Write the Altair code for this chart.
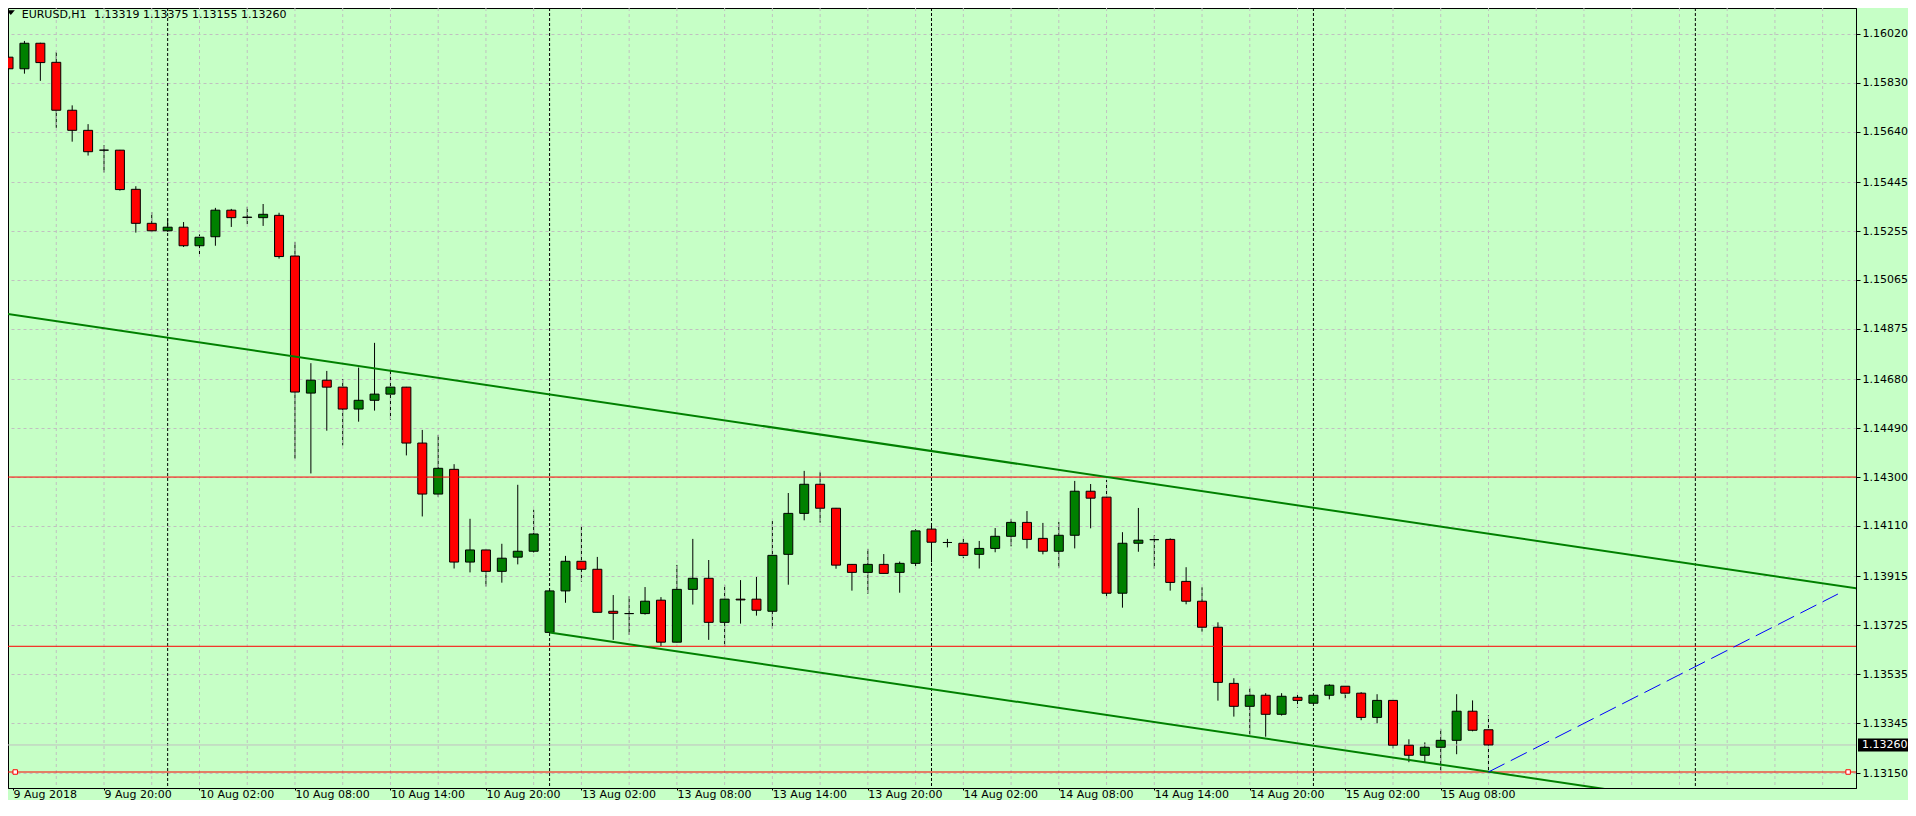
import altair as alt
import pandas as pd

# ---------------- data (EURUSD H1) ----------------
opens = [1.15930, 1.15885, 1.15984, 1.15910, 1.15724, 1.15646, 1.15569, 1.15569, 1.15417, 1.15285,
         1.15256, 1.15270, 1.15198, 1.15233, 1.15336, 1.15309, 1.15307, 1.15316, 1.15158, 1.14626,
         1.14676, 1.14649, 1.14564, 1.14598, 1.14622, 1.14649, 1.14432, 1.14234, 1.14330, 1.13970,
         1.14017, 1.13934, 1.13989, 1.14012, 1.13697, 1.13858, 1.13973, 1.13942, 1.13779, 1.13770,
         1.13770, 1.13822, 1.13659, 1.13864, 1.13907, 1.13736, 1.13826, 1.13826, 1.13779, 1.14000,
         1.14159, 1.14272, 1.14179, 1.13961, 1.13930, 1.13961, 1.13930, 1.13965, 1.14098, 1.14046,
         1.14043, 1.14000, 1.14023, 1.14070, 1.14124, 1.14062, 1.14012, 1.14074, 1.14245, 1.14222,
         1.13849, 1.14043, 1.14057, 1.14058, 1.13895, 1.13818, 1.13717, 1.13499, 1.13410, 1.13453,
         1.13379, 1.13445, 1.13422, 1.13453, 1.13488, 1.13461, 1.13367, 1.13433, 1.13259, 1.13220,
         1.13251, 1.13278, 1.13391, 1.13319]
highs = [1.15945, 1.15993, 1.15986, 1.15950, 1.15743, 1.15670, 1.15588, 1.15570, 1.15429, 1.15329,
         1.15305, 1.15290, 1.15242, 1.15345, 1.15341, 1.15349, 1.15360, 1.15326, 1.15213, 1.14742,
         1.14712, 1.14680, 1.14725, 1.14821, 1.14720, 1.14650, 1.14483, 1.14463, 1.14350, 1.14138,
         1.14018, 1.14041, 1.14270, 1.14173, 1.13860, 1.13994, 1.14110, 1.13990, 1.13842, 1.13838,
         1.13873, 1.13834, 1.13959, 1.14060, 1.13978, 1.13881, 1.13900, 1.13912, 1.14129, 1.14238,
         1.14324, 1.14320, 1.14180, 1.13962, 1.14021, 1.14001, 1.13972, 1.14098, 1.14118, 1.14060,
         1.14060, 1.14052, 1.14102, 1.14137, 1.14168, 1.14122, 1.14126, 1.14285, 1.14273, 1.14289,
         1.14086, 1.14180, 1.14074, 1.14062, 1.13950, 1.13872, 1.13736, 1.13519, 1.13480, 1.13461,
         1.13461, 1.13461, 1.13455, 1.13496, 1.13488, 1.13465, 1.13457, 1.13434, 1.13282, 1.13270,
         1.13321, 1.13457, 1.13433, 1.13375]
lows = [1.15871, 1.15866, 1.15838, 1.15656, 1.15602, 1.15548, 1.15482, 1.15412, 1.15249, 1.15252,
        1.15252, 1.15193, 1.15156, 1.15198, 1.15271, 1.15282, 1.15275, 1.15148, 1.14371, 1.14314,
        1.14480, 1.14423, 1.14515, 1.14558, 1.14523, 1.14384, 1.14147, 1.14222, 1.13945, 1.13930,
        1.13875, 1.13890, 1.13961, 1.14007, 1.13695, 1.13812, 1.13894, 1.13775, 1.13668, 1.13687,
        1.13766, 1.13644, 1.13658, 1.13805, 1.13668, 1.13644, 1.13731, 1.13762, 1.13711, 1.13882,
        1.14132, 1.14123, 1.13944, 1.13859, 1.13847, 1.13926, 1.13851, 1.13954, 1.13969, 1.14027,
        1.13985, 1.13945, 1.14008, 1.14031, 1.14023, 1.14000, 1.13948, 1.14023, 1.14101, 1.13832,
        1.13793, 1.14010, 1.13944, 1.13859, 1.13806, 1.13700, 1.13432, 1.13370, 1.13300, 1.13292,
        1.13374, 1.13405, 1.13420, 1.13437, 1.13441, 1.13356, 1.13344, 1.13247, 1.13193, 1.13193,
        1.13160, 1.13224, 1.13313, 1.13155]
closes = [1.15885, 1.15984, 1.15909, 1.15724, 1.15646, 1.15563, 1.15569, 1.15416, 1.15285, 1.15256,
          1.15270, 1.15198, 1.15231, 1.15336, 1.15307, 1.15308, 1.15320, 1.15156, 1.14630, 1.14676,
          1.14649, 1.14564, 1.14598, 1.14622, 1.14649, 1.14432, 1.14234, 1.14334, 1.13970, 1.14017,
          1.13934, 1.13985, 1.14012, 1.14079, 1.13858, 1.13973, 1.13942, 1.13775, 1.13771, 1.13770,
          1.13818, 1.13659, 1.13864, 1.13907, 1.13736, 1.13826, 1.13823, 1.13783, 1.13996, 1.14159,
          1.14272, 1.14179, 1.13958, 1.13930, 1.13961, 1.13926, 1.13965, 1.14091, 1.14047, 1.14046,
          1.13996, 1.14023, 1.14070, 1.14124, 1.14058, 1.14012, 1.14074, 1.14245, 1.14218, 1.13849,
          1.14043, 1.14055, 1.14057, 1.13891, 1.13818, 1.13717, 1.13503, 1.13410, 1.13453, 1.13379,
          1.13449, 1.13433, 1.13453, 1.13492, 1.13461, 1.13367, 1.13433, 1.13259, 1.13220, 1.13251,
          1.13278, 1.13391, 1.13317, 1.13260]

symbol_label = "EURUSD,H1"

x_tick_idx = [0, 6, 12, 18, 24, 30, 36, 42, 48, 54, 60, 66, 72, 78, 84, 90]
x_tick_labels = ["9 Aug 2018", "9 Aug 20:00", "10 Aug 02:00", "10 Aug 08:00", "10 Aug 14:00",
                 "10 Aug 20:00", "13 Aug 02:00", "13 Aug 08:00", "13 Aug 14:00", "13 Aug 20:00",
                 "14 Aug 02:00", "14 Aug 08:00", "14 Aug 14:00", "14 Aug 20:00", "15 Aug 02:00",
                 "15 Aug 08:00"]
y_tick_values = [1.16020, 1.15830, 1.15640, 1.15445, 1.15255, 1.15065, 1.14875, 1.14680,
                 1.14490, 1.14300, 1.14110, 1.13915, 1.13725, 1.13535, 1.13345, 1.13150]

day_separator_idx = [10, 34, 58, 82, 106]
grid_idx = list(range(3, 116, 3))

red_levels = [1.14300, 1.13643, 1.13155]
bid_price = closes[-1]

upper_trend_idx = [-1, 117]
upper_trend_price = [1.14942, 1.13860]
lower_trend_idx = [34, 117]
lower_trend_price = [1.13697, 1.12936]
blue_ray_idx = [93, 114.96]
blue_ray_price = [1.13155, 1.13846]
marker_idx = [0.42, 115.6]
marker_price = [1.13155, 1.13155]

# ---------------- styling ----------------
BG = "#C6FFC6"
GRID = "#C0C0C0"
FONT = "DejaVu Sans"
X_DOMAIN = [0.28125, 115.78125]
Y_DOMAIN = [1.130929, 1.161209]
PLOT_W, PLOT_H = 1848, 780

label_array = "[" + ",".join("'" + s + "'" for s in x_tick_labels) + "]"
x_axis_values = [max(v, X_DOMAIN[0]) for v in x_tick_idx]
X_AXIS = alt.Axis(values=x_axis_values, labelExpr=label_array + "[round(datum.value/6)]",
                  title=None, grid=False, tickSize=2, labelPadding=7, labelAlign="left",
                  labelBaseline="alphabetic", labelFont=FONT, labelFontSize=11,
                  labelColor="black", tickColor="black", domainColor="black",
                  labelFlush=False, labelOverlap=False)
Y_AXIS = alt.Axis(orient="right", values=y_tick_values, format=".5f", title=None, grid=True,
                  gridDash=[3, 3], gridColor=GRID, tickSize=4, labelPadding=2,
                  labelAlign="left", labelBaseline="middle", labelFont=FONT, labelFontSize=11,
                  labelColor="black", tickColor="black", domainColor="black",
                  labelFlush=False, labelOverlap=False)


def X(field):
    return alt.X(field, scale=alt.Scale(domain=X_DOMAIN, nice=False, zero=False), axis=X_AXIS)


def Y(field):
    return alt.Y(field, scale=alt.Scale(domain=Y_DOMAIN, nice=False, zero=False), axis=Y_AXIS)


n = len(opens)
candles = pd.DataFrame({"i": list(range(n)), "o": opens, "h": highs, "l": lows, "c": closes})
candles["top"] = candles[["o", "c"]].max(axis=1)
candles["bot"] = candles[["o", "c"]].min(axis=1)
candles["dir"] = ["up" if c > o else ("down" if c < o else "flat") for o, c in zip(opens, closes)]

wicks = alt.Chart(candles).mark_rule(color="black", strokeWidth=1, clip=True).encode(
    x=X("i:Q"), y=Y("l:Q"), y2="h:Q"
)

vgrid = alt.Chart(pd.DataFrame({"i": grid_idx})).mark_rule(
    color=GRID, strokeDash=[3, 3], strokeWidth=1, clip=True
).encode(x=X("i:Q"))

seps = alt.Chart(pd.DataFrame({"i": day_separator_idx})).mark_rule(
    color="black", strokeDash=[3, 2], strokeWidth=1, clip=True
).encode(x=X("i:Q"))

bidline = alt.Chart(pd.DataFrame({"p": [bid_price]})).mark_rule(
    color="#C0C0C0", strokeWidth=1
).encode(y=Y("p:Q"))

bodies = alt.Chart(candles).mark_bar(size=9, stroke="black", strokeWidth=1, clip=True).encode(
    x=X("i:Q"),
    y=Y("bot:Q"),
    y2="top:Q",
    fill=alt.Fill("dir:N", scale=alt.Scale(domain=["up", "down", "flat"],
                                           range=["#008000", "#FF0000", "#000000"]), legend=None),
)

redlines = alt.Chart(pd.DataFrame({"p": red_levels})).mark_rule(
    color="#FF0000", strokeWidth=1
).encode(y=Y("p:Q"))


def seg(idx, price, color, width, dash=None):
    kw = dict(color=color, strokeWidth=width, clip=True)
    if dash:
        kw["strokeDash"] = dash
    return alt.Chart(pd.DataFrame({"i": idx, "p": price})).mark_line(**kw).encode(
        x=X("i:Q"), y=Y("p:Q")
    )


upper = seg(upper_trend_idx, upper_trend_price, "#008000", 2)
lower = seg(lower_trend_idx, lower_trend_price, "#008000", 2)
blue = seg(blue_ray_idx, blue_ray_price, "#0000FF", 1, [18, 7])

markers = alt.Chart(pd.DataFrame({"i": marker_idx, "p": marker_price})).mark_point(
    shape="square", size=20, filled=True, fill="white", stroke="#FF0000", strokeWidth=1,
    opacity=1
).encode(x=X("i:Q"), y=Y("p:Q"))

one = pd.DataFrame({"k": [0]})
tri = alt.Chart(one).mark_point(
    shape="M-1,-0.6L1,-0.6L0,0.6Z", size=64, filled=True, color="black", opacity=1
).encode(x=alt.value(2.8), y=alt.value(4.7))

head1 = alt.Chart(pd.DataFrame({"t": [symbol_label]})).mark_text(
    align="left", baseline="alphabetic", font=FONT, fontSize=11, color="black"
).encode(x=alt.value(13.7), y=alt.value(9.5), text="t:N")

ohlc_text = " ".join(f"{v:.5f}" for v in [opens[-1], highs[-1], lows[-1], closes[-1]])
head2 = alt.Chart(pd.DataFrame({"t": [ohlc_text]})).mark_text(
    align="left", baseline="alphabetic", font=FONT, fontSize=11, color="black"
).encode(x=alt.value(86), y=alt.value(9.5), text="t:N")

bid_df = pd.DataFrame({"p": [bid_price], "t": [f"{bid_price:.5f}"]})
bidbox = alt.Chart(bid_df).mark_rule(color="black", strokeWidth=13, strokeCap="butt").encode(
    x=alt.value(PLOT_W + 2), x2=alt.value(PLOT_W + 52), y=Y("p:Q")
)
bidtext = alt.Chart(bid_df).mark_text(
    align="left", baseline="middle", font=FONT, fontSize=11, color="white"
).encode(x=alt.value(PLOT_W + 6), y=Y("p:Q"), text="t:N")

chart = alt.layer(
    wicks, vgrid, seps, bidline, bodies, redlines, upper, lower, blue, markers,
    tri, head1, head2, bidbox, bidtext
).properties(
    width=PLOT_W, height=PLOT_H,
    autosize=alt.AutoSizeParams(type="none"),
    padding={"left": 0, "top": 0, "right": 52, "bottom": 12},
    background=BG,
).configure_view(stroke="black", strokeWidth=1, fill=BG)

chart.save("out.html", embed_options={"renderer": "svg", "actions": False})
